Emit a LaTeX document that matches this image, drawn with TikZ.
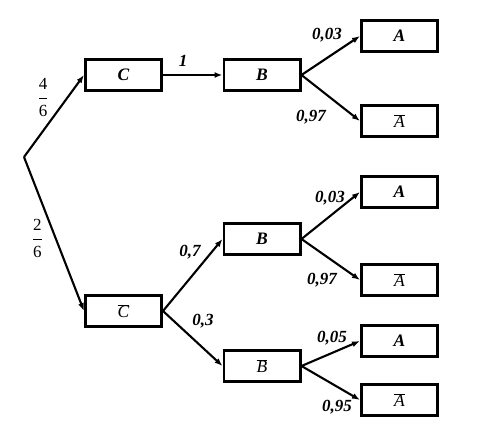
\documentclass[tikz,border=0pt]{standalone}
\usepackage{fontspec}
\setmainfont{Liberation Serif}
\usetikzlibrary{arrows.meta}
\newcommand{\ovl}[1]{\ensuremath{\overline{\mbox{\itshape #1}}}}
\newcommand{\myfrac}[2]{\ensuremath{{\displaystyle\frac{\raisebox{1.5pt}{#1}}{\raisebox{-2.5pt}{#2}}}}}
\begin{document}
\begin{tikzpicture}[x=1pt,y=-1pt,
  box/.style={draw,line width=2.6pt,minimum width=76.4pt,minimum height=31.4pt,inner sep=0pt,font=\fontsize{17.5}{19}\selectfont},
  arr/.style={line width=2.1pt,-{Latex[length=8pt,width=6pt]}},
  lab/.style={font=\fontsize{17}{19}\selectfont\bfseries\itshape,inner sep=0pt},
  frac/.style={font=\fontsize{17}{19}\selectfont,inner sep=0pt,anchor=base}]
\useasboundingbox (0,0) rectangle (487,426);
\coordinate (r) at (24,157);
\node[box] (c) at (123.5,75) {\textbf{\textit{C}}};
\node[box] (cb) at (123.5,311) {\ovl{C}};
\node[box] (b1) at (262,75) {\textbf{\textit{B}}};
\node[box] (b2) at (262,239) {\textbf{\textit{B}}};
\node[box] (bb) at (262,366) {\ovl{B}};
\node[box] (a1) at (399.5,36) {\textbf{\textit{A}}};
\node[box] (a1b) at (399.5,121) {\ovl{A}};
\node[box] (a2) at (399.5,192) {\textbf{\textit{A}}};
\node[box] (a2b) at (399.5,280) {\ovl{A}};
\node[box] (a3) at (399.5,341) {\textbf{\textit{A}}};
\node[box] (a3b) at (399.5,400) {\ovl{A}};
\draw[arr] (r) -- (c.west);
\draw[arr] (r) -- (cb.west);
\draw[arr] (c.east) -- (b1.west);
\draw[arr] (b1.east) -- (a1.west);
\draw[arr] (b1.east) -- (a1b.west);
\draw[arr] (cb.east) -- (b2.west);
\draw[arr] (cb.east) -- (bb.west);
\draw[arr] (b2.east) -- (a2.west);
\draw[arr] (b2.east) -- (a2b.west);
\draw[arr] (bb.east) -- (a3.west);
\draw[arr] (bb.east) -- (a3b.west);
\node[frac] (f1) at (43,102.3) {\myfrac{4}{6}};
\node[frac] (f2) at (37.3,243.3) {\myfrac{2}{6}};
\node[lab] (l1) at (183,61) {1};
\node[lab] (l2) at (327,35) {0,03};
\node[lab] (l3) at (311,117) {0,97};
\node[lab] (l4) at (330,198) {0,03};
\node[lab] (l5) at (322,280) {0,97};
\node[lab] (l6) at (332,338) {0,05};
\node[lab] (l7) at (337,407) {0,95};
\node[lab] (l8) at (190,252) {0,7};
\node[lab] (l9) at (203,321) {0,3};
\end{tikzpicture}
\end{document}
